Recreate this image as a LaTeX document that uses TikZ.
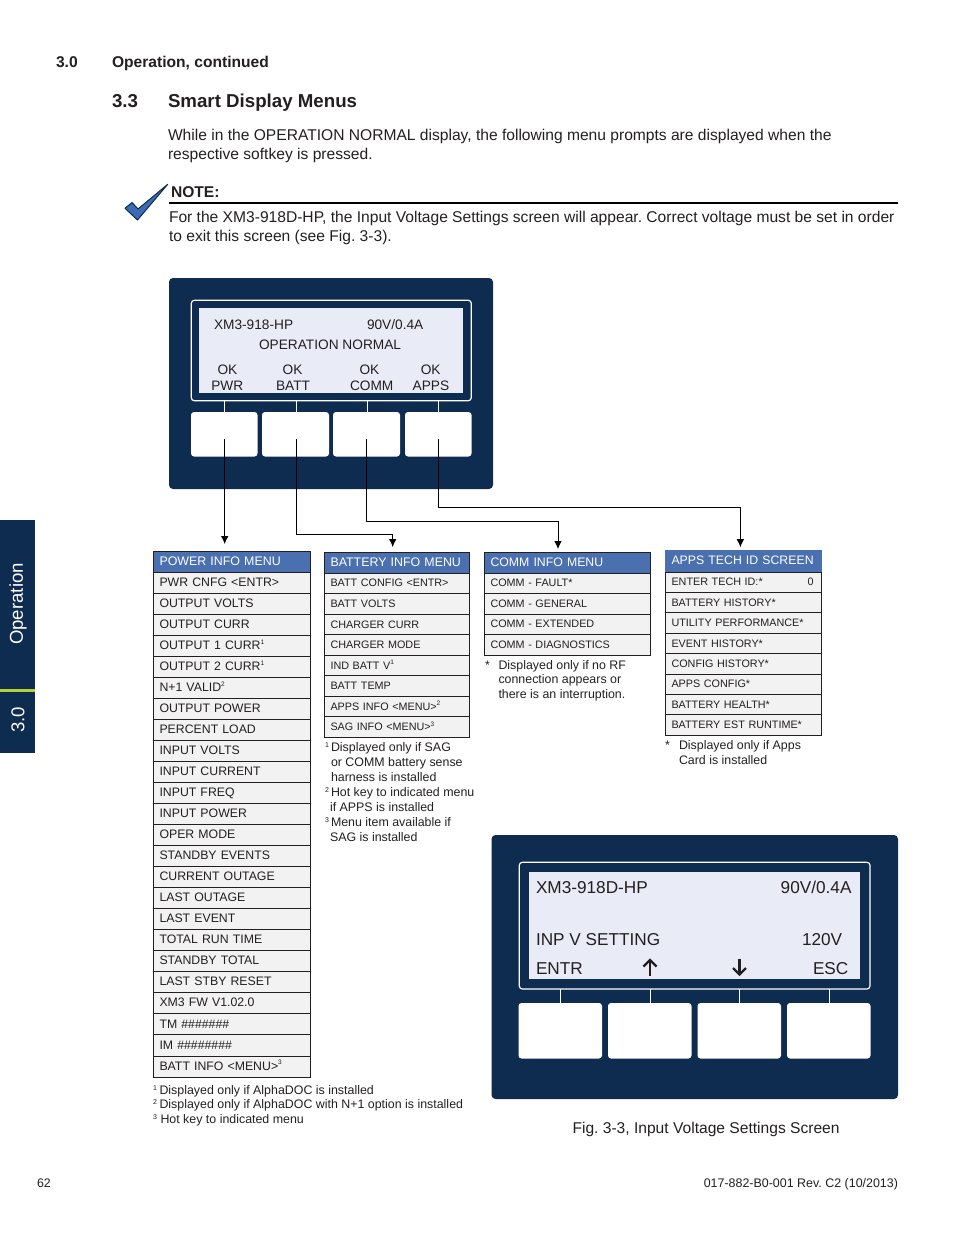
\documentclass[tikz,border=0pt]{standalone}
\usepackage{fontspec}
\setmainfont{Liberation Sans}
\frenchspacing
\usetikzlibrary{arrows.meta}
\definecolor{navy}{HTML}{0E2B50}
\definecolor{lcd}{HTML}{E9ECF7}
\definecolor{hblue}{HTML}{4A70B0}
\definecolor{rowg}{HTML}{F2F2F2}
\definecolor{ink}{HTML}{231F20}
\definecolor{lime}{HTML}{B4D233}
\definecolor{checkb}{HTML}{3B6BB5}
\newcommand\fs[1]{\fontsize{#1}{#1}\selectfont}
\newcommand\sps[1]{\raisebox{.42em}{\fs{6.5}#1}}
\tikzset{
  x=1pt,y=-1pt,
  txt/.style={anchor=base west,inner sep=0,outer sep=0,text=ink},
  txr/.style={anchor=base east,inner sep=0,outer sep=0,text=ink},
  panel/.style={fill=navy,draw=none,rounded corners=4pt},
  frameb/.style={draw=white,line width=1.2pt,rounded corners=3pt},
  lcdscr/.style={fill=lcd,draw=none},
  tick/.style={draw=white,line width=1pt},
  keyn/.style={fill=white,rounded corners=3pt,inner sep=0,outer sep=0,anchor=north west},
  row/.style={draw=ink,line width=.9pt,fill=rowg,anchor=north west,inner ysep=0,inner xsep=6pt,outer sep=0,align=left,text=ink,text height=.72em,text depth=0pt},
  hdr/.style={row,fill=hblue,text=white},
  conn/.style={draw=black,line width=.8pt,-{Latex[length=8pt,width=7.5pt]}},
  lcdarrow/.style={draw=ink,line width=2.3pt,line join=miter},
}
\begin{document}
\begin{tikzpicture}
\useasboundingbox (0,0) rectangle (954,1235);
% side tab
\fill[navy] (0,520) rectangle (35,753);
\fill[lime] (0,689) rectangle (35,692);
\node[rotate=90,text=white,inner sep=0,font=\fs{18.6}] (tabop) at (18,604) {Operation};
\node[rotate=90,text=white,inner sep=0,font=\fs{18.6}] (tabnum) at (18,720) {3.0};
% headings
\node[txt,font=\fs{15.6}\bfseries] (h1) at (56,67) {3.0};
\node[txt,font=\fs{15.6}\bfseries] (h2) at (112,67) {Operation, continued};
\node[txt,font=\fs{18.7}\bfseries] (h3) at (112,107) {3.3};
\node[txt,font=\fs{18.7}\bfseries] (h4) at (168,107) {Smart Display Menus};
\node[txt,font=\fs{15.6}] (p1) at (168,140.5) {While in the OPERATION NORMAL display, the following menu prompts are displayed when the};
\node[txt,font=\fs{15.6}] (p2) at (168,159.5) {respective softkey is pressed.};
% note
\filldraw[fill=checkb,draw=navy,line width=1pt,line join=round] (125,208.3) -- (132,202.5) -- (138,209) -- (167.7,184.3) -- (137.5,220) -- cycle;
\node[txt,font=\fs{15.6}\bfseries] (n0) at (171,197) {NOTE:};
\draw[black,line width=1.5pt] (169,203) -- (898,203);
\node[txt,font=\fs{15.6}] (n1) at (169,222) {For the XM3-918D-HP, the Input Voltage Settings screen will appear. Correct voltage must be set in order};
\node[txt,font=\fs{15.6}] (n2) at (169,241) {to exit this screen (see Fig. 3-3).};
% panel 1
\fill[panel] (169,278) rectangle (493,489);
\draw[frameb] (191.3,300.3) rectangle (471.3,400.7);
\fill[lcdscr] (199,308) rectangle (463,393);
\foreach \x in {224.5,296,367,438.5} \draw[tick] (\x,400.7) -- (\x,412);
\node[keyn,minimum width=66.5pt,minimum height=44.5pt] (ka) at (191,412) {};
\node[keyn,minimum width=67pt,minimum height=44.5pt] (kb) at (262,412) {};
\node[keyn,minimum width=67pt,minimum height=44.5pt] (kc) at (333,412) {};
\node[keyn,minimum width=66.5pt,minimum height=44.5pt] (kd) at (405,412) {};
\node[txt,font=\fs{13.7}] (a1) at (214,329.5) {XM3-918-HP};
\node[txt,font=\fs{13.7}] (a2) at (367,329.5) {90V/0.4A};
\node[txt,font=\fs{13.7}] (a3) at (259,349.5) {OPERATION NORMAL};
\node[txt,font=\fs{13.7}] (a4) at (217.5,374.5) {OK};
\node[txt,font=\fs{13.7}] (a5) at (282.7,374.5) {OK};
\node[txt,font=\fs{13.7}] (a6) at (359.5,374.5) {OK};
\node[txt,font=\fs{13.7}] (a7) at (420.8,374.5) {OK};
\node[txt,font=\fs{13.7}] (a8) at (211.3,390.5) {PWR};
\node[txt,font=\fs{13.7}] (a9) at (276,390.5) {BATT};
\node[txt,font=\fs{13.7}] (a10) at (350,390.5) {COMM};
\node[txt,font=\fs{13.7}] (a11) at (412.7,390.5) {APPS};
% power menu
\node[hdr,font=\fs{12.4},minimum width=157pt,text width=145pt,minimum height=21.04pt] (pm) at (153.5,551) {\mbox{POWER INFO MENU}};
\foreach \t [count=\i from 1] in {PWR CNFG <ENTR>,OUTPUT VOLTS,OUTPUT CURR,OUTPUT 1 CURR\sps{1},OUTPUT 2 CURR\sps{1},N+1 VALID\sps{2},OUTPUT POWER,PERCENT LOAD,INPUT VOLTS,INPUT CURRENT,INPUT FREQ,INPUT POWER,OPER MODE,STANDBY EVENTS,CURRENT OUTAGE,LAST OUTAGE,LAST EVENT,TOTAL RUN TIME,STANDBY TOTAL,LAST STBY RESET,XM3 FW V1.02.0,TM \#\#\#\#\#\#\#,IM \#\#\#\#\#\#\#\#,BATT INFO <MENU>\sps{3}}
  \node[row,font=\fs{12.3},minimum width=157pt,text width=145pt,minimum height=21.04pt] (pr\i) at (153.5,{551+\i*21.04}) {\t};
% battery menu
\node[hdr,font=\fs{12.4},minimum width=145pt,text width=133pt,minimum height=20.55pt] (bm) at (324.5,552.5) {\mbox{BATTERY INFO MENU}};
\foreach \t [count=\i from 1] in {BATT CONFIG <ENTR>,BATT VOLTS,CHARGER CURR,CHARGER MODE,IND BATT V\sps{1},BATT TEMP,APPS INFO <MENU>\sps{2},SAG INFO <MENU>\sps{3}}
  \node[row,font=\fs{10.8},minimum width=145pt,text width=133pt,minimum height=20.55pt] (br\i) at (324.5,{552.5+\i*20.55}) {\t};
% comm menu
\node[hdr,font=\fs{12.3},minimum width=166pt,text width=154pt,minimum height=20.5pt] (cm) at (484.5,552.5) {\mbox{COMM INFO MENU}};
\foreach \t [count=\i from 1] in {COMM - FAULT*,COMM - GENERAL,COMM - EXTENDED,COMM - DIAGNOSTICS}
  \node[row,font=\fs{10.8},minimum width=166pt,text width=154pt,minimum height=20.5pt] (cr\i) at (484.5,{552.5+\i*20.5}) {\t};
% apps menu
\foreach \t [count=\i from 1] in {ENTER TECH ID:*,BATTERY HISTORY*,UTILITY PERFORMANCE*,EVENT HISTORY*,CONFIG HISTORY*,APPS CONFIG*,BATTERY HEALTH*,BATTERY EST RUNTIME*}
  \node[row,font=\fs{10.8},minimum width=156pt,text width=144pt,minimum height=20.4pt] (ar\i) at (665.5,{551.7+\i*20.4}) {\t};
\node[hdr,draw=hblue,font=\fs{12.3},minimum width=156pt,text width=144pt,minimum height=21pt] (am) at (665.5,550.7) {\mbox{APPS TECH ID SCREEN}};
\node[txr,font=\fs{10.8}] (a0) at (813.5,585) {0};
% notes
\node[txt,font=\fs{7}] (ps1) at (153,1090) {1};
\node[txt,font=\fs{12.4}] (pn1) at (159.5,1094) {Displayed only if AlphaDOC is installed};
\node[txt,font=\fs{7}] (ps2) at (153,1104.7) {2};
\node[txt,font=\fs{12.4}] (pn2) at (159.5,1108.7) {Displayed only if AlphaDOC with N+1 option is installed};
\node[txt,font=\fs{7}] (ps3) at (153,1119) {3};
\node[txt,font=\fs{12.4}] (pn3) at (160.5,1123) {Hot key to indicated menu};
\node[txt,font=\fs{7}] (bs1) at (325,747) {1};
\node[txt,font=\fs{12.4}] (bn1) at (331,751) {Displayed only if SAG};
\node[txt,font=\fs{12.4}] (bn2) at (331,766) {or COMM battery sense};
\node[txt,font=\fs{12.4}] (bn3) at (331,781) {harness is installed};
\node[txt,font=\fs{7}] (bs2) at (325,792) {2};
\node[txt,font=\fs{12.4}] (bn4) at (331,796) {Hot key to indicated menu};
\node[txt,font=\fs{12.4}] (bn5) at (330,811) {if APPS is installed};
\node[txt,font=\fs{7}] (bs3) at (325,822) {3};
\node[txt,font=\fs{12.4}] (bn6) at (331,826) {Menu item available if};
\node[txt,font=\fs{12.4}] (bn7) at (330,841) {SAG is installed};
\node[txt,font=\fs{12.4}] (cs) at (485,669) {*};
\node[txt,font=\fs{12.4}] (cn1) at (498.5,669) {Displayed only if no RF};
\node[txt,font=\fs{12.4}] (cn2) at (498.5,683.5) {connection appears or};
\node[txt,font=\fs{12.4}] (cn3) at (498.5,698) {there is an interruption.};
\node[txt,font=\fs{12.4}] (as) at (665,749) {*};
\node[txt,font=\fs{12.4}] (an1) at (679,749) {Displayed only if Apps};
\node[txt,font=\fs{12.4}] (an2) at (679,764) {Card is installed};
% connectors
\coordinate (sa) at (224.7,439);
\coordinate (sb) at (296.7,439);
\coordinate (sc) at (366.7,439);
\coordinate (sd) at (438.5,439);
\draw[conn,shorten >=7pt] (sa) -- (sa |- pm.north);
\draw[conn,shorten >=5.5pt] (sb) |- (392.7,534) -- (392.7,552.5);
\draw[conn,shorten >=3.5pt] (sc) |- (558,521.5) -- (558,552.5);
\draw[conn,shorten >=3.5pt] (sd) |- (740.4,507.5) -- (740.4,550.7);
% panel 2
\fill[panel] (491.5,835) rectangle (898,1099);
\draw[frameb] (519.3,862.3) rectangle (870,989);
\fill[lcdscr] (529,872) rectangle (860,979);
\foreach \x in {560.5,650,739.5,829} \draw[tick] (\x,989) -- (\x,1003);
\node[keyn,minimum width=83.5pt,minimum height=55.5pt] (ke) at (518.5,1003) {};
\node[keyn,minimum width=83.5pt,minimum height=55.5pt] (kf) at (608,1003) {};
\node[keyn,minimum width=83.5pt,minimum height=55.5pt] (kg) at (697.5,1003) {};
\node[keyn,minimum width=83.5pt,minimum height=55.5pt] (kh) at (787,1003) {};
\node[txt,font=\fs{17.2}] (d1) at (536,893) {XM3-918D-HP};
\node[txr,font=\fs{17.2}] (d2) at (851.5,893) {90V/0.4A};
\node[txt,font=\fs{17.2}] (d3) at (536,945) {INP V SETTING};
\node[txt,font=\fs{17.2}] (d4) at (802,945) {120V};
\node[txt,font=\fs{17.2}] (d5) at (536,974) {ENTR};
\node[txt,font=\fs{17.2}] (d6) at (813,974) {ESC};
\draw[lcdarrow] (650,975.5) -- (650,960);
\draw[lcdarrow] (643.5,966.5) -- (650,960) -- (656.5,966.5);
\draw[lcdarrow] (739.5,958.5) -- (739.5,974.5);
\draw[lcdarrow] (733,968) -- (739.5,974.5) -- (746,968);
\node[txt,font=\fs{15.6}] (fig) at (572.5,1133) {Fig. 3-3, Input Voltage Settings Screen};
% footer
\node[txt,font=\fs{12.4}] (f1) at (37,1187) {62};
\node[txr,font=\fs{12.45}] (f2) at (898,1187) {017-882-B0-001 Rev. C2 (10/2013)};
\end{tikzpicture}
\end{document}
